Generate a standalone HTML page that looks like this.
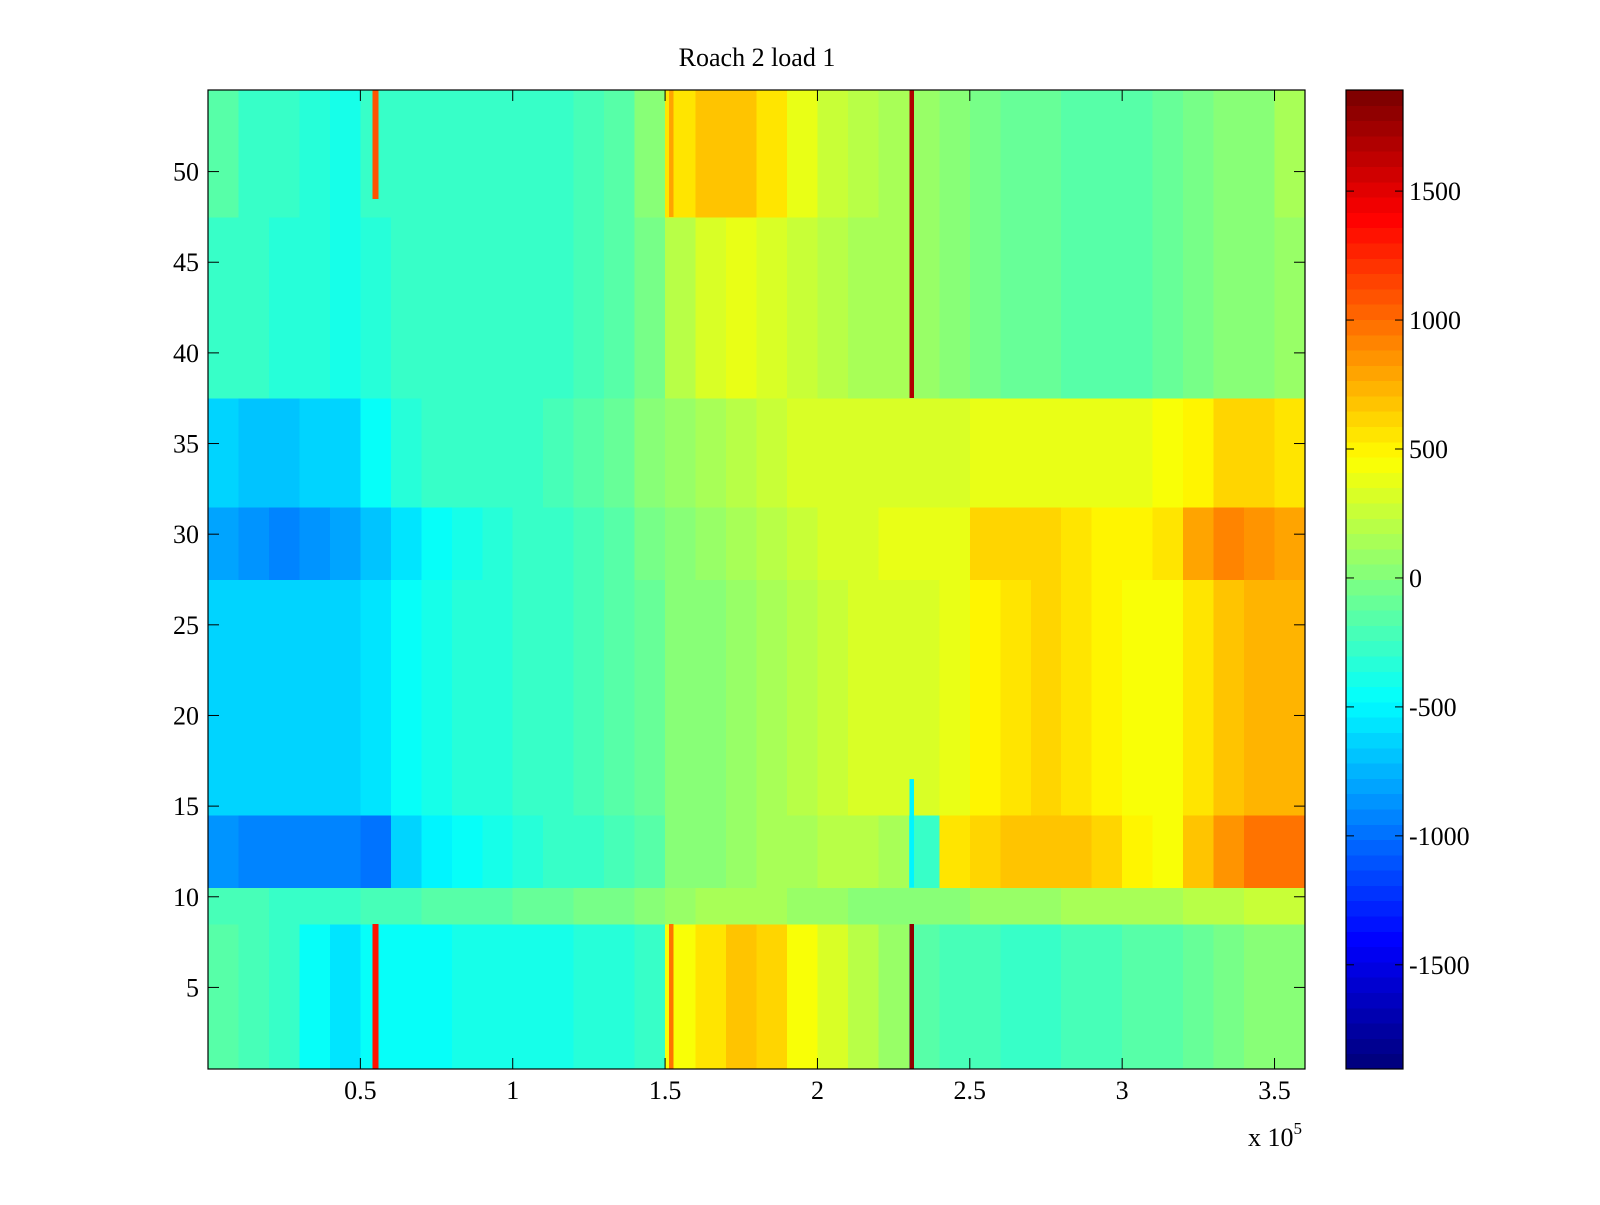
<!DOCTYPE html>
<html><head><meta charset="utf-8"><style>
body{margin:0;background:#fff;}
svg text{font-family:"Liberation Serif",serif;font-size:26px;fill:#000;}
</style></head><body>
<svg id="chart" width="1600" height="1200" xmlns="http://www.w3.org/2000/svg">
<rect width="1600" height="1200" fill="#fff"/>
<text x="757" y="66" text-anchor="middle">Roach 2 load 1</text>
<g id="cells" shape-rendering="crispEdges"></g>
<g id="cbar" shape-rendering="crispEdges"></g>
<g id="axes"></g>
</svg>
<script>
// data
const colStep = 0.1e5; // column bin width
const bandRows = [[1,8],[9,10],[11,14],[15,27],[28,31],[32,37],[38,47],[48,54]];
const bandA = [-150,-200,-300,-450,-550,-450,-450,-450,-400,-400,-400,-400,-350,-350,-300,450,550,650,600,450,300,200,100,-150,-200,-200,-250,-250,-200,-200,-150,-150,-100,-50,0,50];
const bandB = [-200,-200,-250,-250,-250,-200,-200,-150,-150,-150,-100,-100,-50,-50,0,100,150,150,150,100,100,50,0,0,50,100,100,100,150,150,150,150,200,200,250,250];
const bandC = [-850,-900,-950,-950,-950,-1000,-650,-500,-450,-400,-350,-300,-250,-200,-150,0,50,100,150,150,200,200,150,-300,550,600,650,650,650,600,500,450,650,850,950,950];
const bandD1 = [-600,-650,-650,-650,-600,-550,-450,-400,-350,-350,-300,-250,-200,-150,-100,0,50,100,150,200,250,300,300,300,350,500,550,600,550,500,450,450,550,700,750,750];
const bandD2 = [-800,-850,-900,-850,-800,-700,-550,-450,-400,-350,-300,-250,-200,-150,-50,50,100,150,200,250,300,300,350,350,400,600,600,600,550,500,500,550,800,900,850,800];
const bandE = [-650,-700,-700,-650,-600,-450,-350,-300,-300,-250,-250,-200,-150,-100,0,100,150,200,250,300,300,300,300,300,300,350,350,400,400,400,400,450,500,600,600,550];
const bandF1 = [-250,-300,-350,-350,-400,-350,-300,-300,-300,-300,-250,-250,-200,-150,-50,200,300,350,300,250,200,150,150,100,0,-50,-100,-100,-150,-150,-150,-100,-50,0,50,100];
const bandF2 = [-150,-250,-300,-350,-400,-300,-300,-300,-300,-250,-250,-250,-200,-150,0,550,650,700,550,400,250,200,150,100,0,-50,-100,-100,-150,-150,-150,-100,-50,0,50,150];
const stripeX = [0.55e5,0.55e5,1.52e5,1.52e5,2.31e5,2.31e5,2.31e5];
const stripeW = [0.02e5,0.02e5,0.015e5,0.015e5,0.015e5,0.015e5,0.015e5];
const stripeRows = [[1,8],[49,54],[1,8],[48,54],[1,8],[38,54],[11,16]];
const stripeVals = [1300,1100,1000,800,1800,1700,-500];
const xTicks = [0.5,1,1.5,2,2.5,3,3.5];
const yTicks = [5,10,15,20,25,30,35,40,45,50];
const cTicks = [-1500,-1000,-500,0,500,1000,1500];

const bands=[bandA,bandB,bandC,bandD1,bandD2,bandE,bandF1,bandF2];
const L=208,R=1305,T=90,B=1069, xMax=3.6e5, yMin=0.5,yMax=54.5, cMin=-1904,cMax=1892;
const X=v=>L+(v/xMax)*(R-L);
const Y=v=>B-(v-yMin)/(yMax-yMin)*(B-T);
function jet(v){
  let t=(v-cMin)/(cMax-cMin); t=Math.max(0,Math.min(1,t)); t=Math.floor(t*63.999)/63;
  const f=x=>Math.max(0,Math.min(1,x));
  const r=f(1.5-Math.abs(4*t-3)), g=f(1.5-Math.abs(4*t-2)), b=f(1.5-Math.abs(4*t-1));
  return `rgb(${Math.round(r*255)},${Math.round(g*255)},${Math.round(b*255)})`;
}
const NS="http://www.w3.org/2000/svg";
function mk(tag,attrs,parent){const e=document.createElementNS(NS,tag);for(const k in attrs)e.setAttribute(k,attrs[k]);parent.appendChild(e);return e;}
const cells=document.getElementById('cells');
bands.forEach((vals,bi)=>{
  const [r0,r1]=bandRows[bi];
  vals.forEach((v,ci)=>{
    const x0=X(ci*colStep),x1=X((ci+1)*colStep);
    const e=mk('rect',{x:x0,y:Y(r1+0.5),width:x1-x0+0.6,height:Y(r0-0.5)-Y(r1+0.5)+0.5,fill:jet(v)},cells);
    
    
  });
});
stripeVals.forEach((v,i)=>{
  const [r0,r1]=stripeRows[i];
  const e=mk('rect',{x:X(stripeX[i]-stripeW[i]/2),y:Y(r1+0.5),width:X(stripeW[i])-L,height:Y(r0-0.5)-Y(r1+0.5),fill:jet(v)},cells);
  
  
});
// colorbar
const cb=document.getElementById('cbar'), CL=1346,CR=1403;
const CY=v=>B-(v-cMin)/(cMax-cMin)*(B-T);
for(let i=0;i<64;i++){
  const v0=cMin+(cMax-cMin)*i/64, v1=cMin+(cMax-cMin)*(i+1)/64;
  const e=mk('rect',{x:CL,y:CY(v1),width:CR-CL,height:CY(v0)-CY(v1)+0.5,fill:jet((v0+v1)/2)},cb);
  
  
}
const ax=document.getElementById('axes');
mk('rect',{x:L,y:T,width:R-L,height:B-T,fill:'none',stroke:'#000','stroke-width':1.2},ax);
mk('rect',{x:CL,y:T,width:CR-CL,height:B-T,fill:'none',stroke:'#000','stroke-width':1.2},ax);
xTicks.forEach(t=>{
  const x=X(t*1e5);
  mk('line',{x1:x,x2:x,y1:B,y2:B-11,stroke:'#000'},ax);
  mk('line',{x1:x,x2:x,y1:T,y2:T+11,stroke:'#000'},ax);
  const e=mk('text',{x:x,y:B+30,'text-anchor':'middle'},ax);e.textContent=t;
  
  
});
yTicks.forEach(t=>{
  const y=Y(t);
  mk('line',{x1:L,x2:L+11,y1:y,y2:y,stroke:'#000'},ax);
  mk('line',{x1:R,x2:R-11,y1:y,y2:y,stroke:'#000'},ax);
  const e=mk('text',{x:L-9,y:y+9,'text-anchor':'end'},ax);e.textContent=t;
  
  
});
cTicks.forEach(t=>{
  const y=CY(t);
  mk('line',{x1:CL,x2:CL+8,y1:y,y2:y,stroke:'#000'},ax);
  mk('line',{x1:CR,x2:CR-8,y1:y,y2:y,stroke:'#000'},ax);
  const e=mk('text',{x:CR+6,y:y+9},ax);e.textContent=t;
  
  
});
const ex=mk('text',{x:1248,y:1146},ax);
ex.innerHTML='x 10<tspan dy="-12" font-size="17">5</tspan>';


</script>
</body></html>
